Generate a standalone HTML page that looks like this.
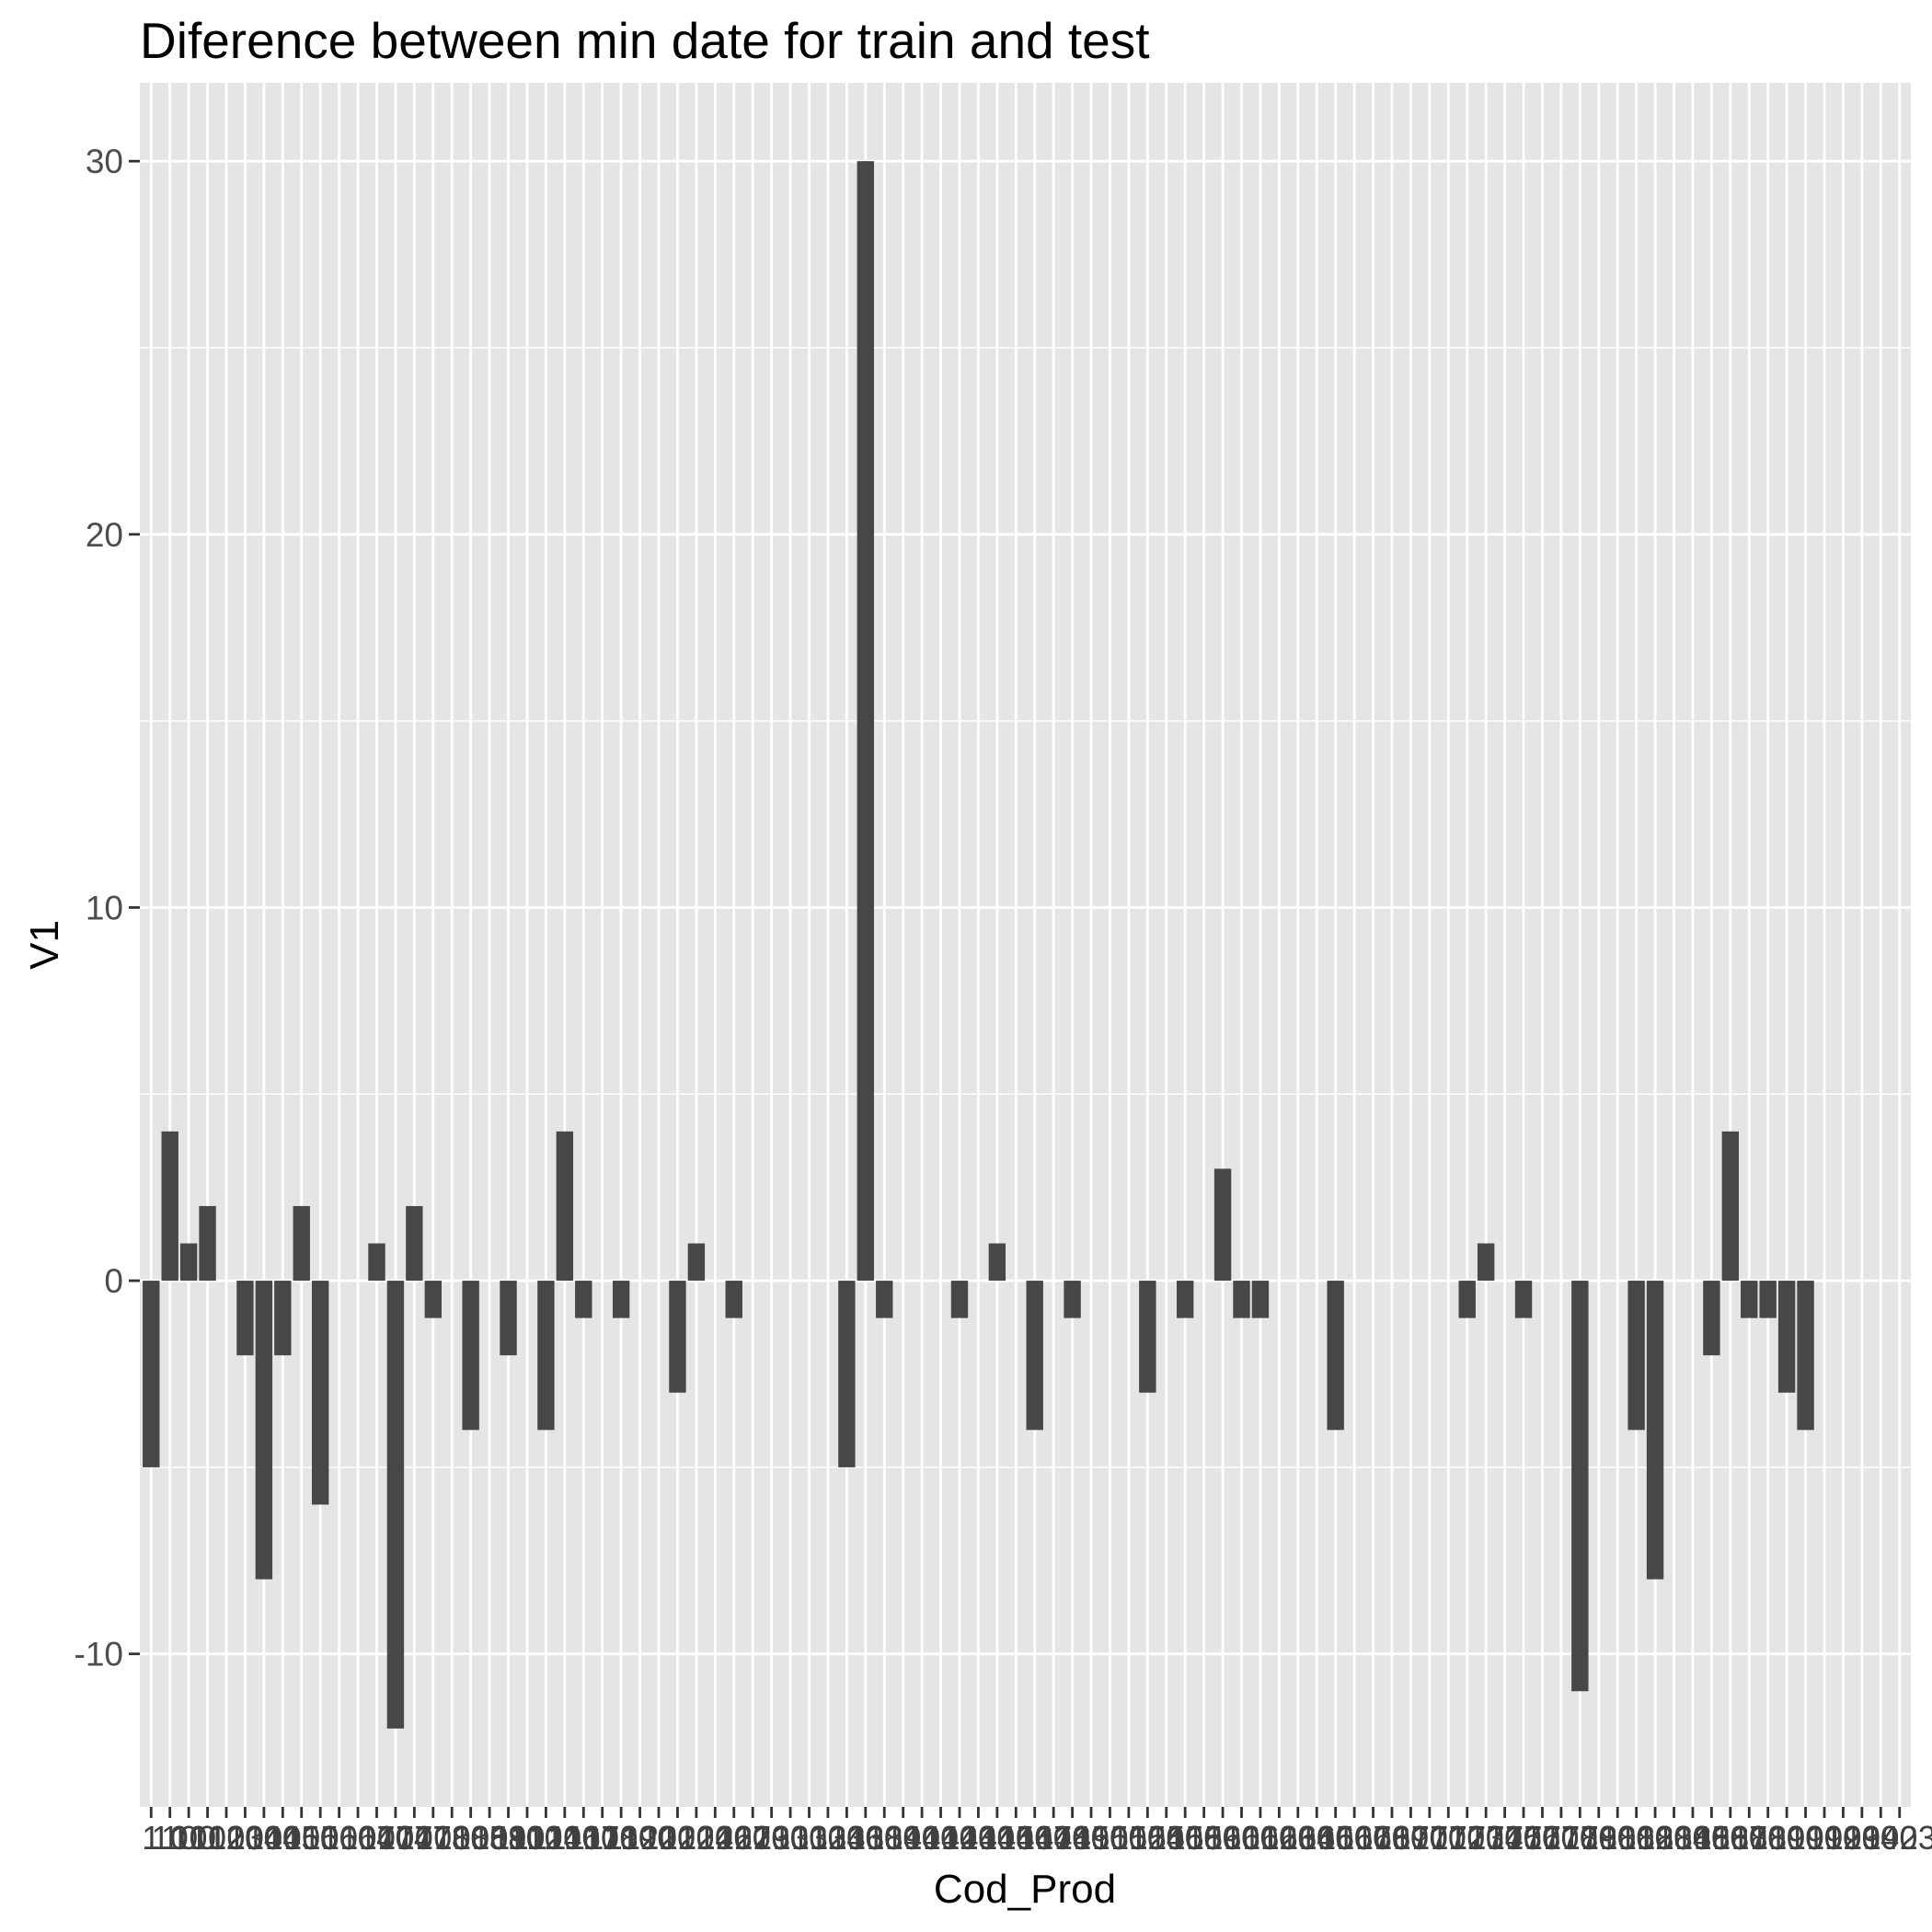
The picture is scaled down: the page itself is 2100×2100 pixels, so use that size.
<!DOCTYPE html>
<html><head><meta charset="utf-8"><style>
html,body{margin:0;padding:0;background:#fff;}
svg{display:block;font-family:"Liberation Sans",Arial,sans-serif;}
</style></head><body>
<svg id="chart" width="2100" height="2100" viewBox="0 0 2100 2100" xmlns="http://www.w3.org/2000/svg">
<text x="152" y="63" font-size="55" fill="#000">Diference between min date for train and test</text>
<rect x="152" y="90" width="1925" height="1874" fill="#e5e5e5"/>
<g id="grid"></g>
<g id="bars"></g>
<g id="yaxis"></g>
<g id="xaxis"></g>
<text x="1114" y="2068" font-size="44" text-anchor="middle" fill="#000">Cod_Prod</text>
<text transform="translate(63,1027) rotate(-90)" font-size="44" text-anchor="middle" fill="#000">V1</text>
</svg>
<script>
const barIndex = [0,1,2,3,5,6,7,8,9,12,13,14,15,17,19,21,22,23,25,28,29,31,37,38,39,43,45,47,49,53,55,57,58,59,63,70,71,73,76,79,80,83,84,85,86,87,88];
const barValues = [-5,4,1,2,-2,-8,-2,2,-6,1,-12,2,-1,-4,-2,-4,4,-1,-1,-3,1,-1,-5,30,-1,-1,1,-4,-1,-3,-1,3,-1,-1,-4,-1,1,-1,-11,-4,-8,-2,4,-1,-1,-3,-4];
const yTicks = [-10,0,10,20,30];
const yMinor = [-5,5,15,25];
const categoryLabels = ["1","10","100","1012","1020","1030","1040","1045","1050","1056","1060","1064","1070","1074","1077","1078","1080","1085","1088","1090","1100","1120","1140","1160","1170","1180","1190","1200","1210","1220","1240","1260","1270","1290","1300","1310","1320","1340","1360","1380","1390","1400","1410","1420","1430","1440","1450","1460","1470","1480","1490","1500","1510","1520","1540","1560","1580","1590","1600","1610","1620","1630","1640","1650","1660","1670","1680","1690","1700","1710","1720","1730","1740","1750","1760","1770","1780","1790","1800","1810","1820","1830","1840","1850","1860","1870","1880","1890","1900","1910","1920","1930","1940","1923"];
const NS = "http://www.w3.org/2000/svg";
const nCat = categoryLabels.length;
const px0 = 152, px1 = 2077, py0 = 90, py1 = 1964;
const step = (px1 - px0) / (nCat - 1 + 1.2);
function xScale(i){ return px0 + step * (0.6 + i); }
const yMin = -12 - 0.05*42, yMax = 30 + 0.05*42;
function yScale(v){ return py1 - (v - yMin) / (yMax - yMin) * (py1 - py0); }
function mk(tag, attrs, parent){ const e = document.createElementNS(NS, tag); for (const k in attrs) e.setAttribute(k, attrs[k]); parent.appendChild(e); return e; }
const grid = document.getElementById('grid');
for (const v of yMinor) {
  const l = mk('line', {x1:px0, x2:px1, y1:yScale(v), y2:yScale(v), stroke:'#fff', 'stroke-width':1.4}, grid);
  
  
}
for (const v of yTicks) {
  const l = mk('line', {x1:px0, x2:px1, y1:yScale(v), y2:yScale(v), stroke:'#fff', 'stroke-width':2.8}, grid);
  
  
}
for (let i = 0; i < nCat; i++) {
  const l = mk('line', {x1:xScale(i), x2:xScale(i), y1:py0, y2:py1, stroke:'#fff', 'stroke-width':2.8}, grid);
  
  
}
const bars = document.getElementById('bars');
const bw = step * 0.9;
for (let k = 0; k < barIndex.length; k++) {
  const v = barValues[k];
  const y0 = yScale(Math.max(0, v)), y1 = yScale(Math.min(0, v));
  const r = mk('rect', {x: xScale(barIndex[k]) - bw/2, y: y0, width: bw, height: y1 - y0, fill:'#474747'}, bars);
  
  
}
const yaxis = document.getElementById('yaxis');
for (const v of yTicks) {
  const t = mk('line', {x1:px0-12, x2:px0, y1:yScale(v), y2:yScale(v), stroke:'#333', 'stroke-width':2.8}, yaxis);
  
  
  const tx = mk('text', {x:px0-18, y:yScale(v)+13, 'font-size':37, fill:'#4d4d4d', 'text-anchor':'end'}, yaxis);
  tx.textContent = String(v);
  
  
}
const xaxis = document.getElementById('xaxis');
for (let i = 0; i < nCat; i++) {
  const t = mk('line', {x1:xScale(i), x2:xScale(i), y1:py1, y2:py1+12, stroke:'#333', 'stroke-width':2.8}, xaxis);
  
  
  const tx = mk('text', {x:xScale(i), y:2010, 'font-size':36, fill:'#404040', 'text-anchor':'middle'}, xaxis);
  tx.textContent = categoryLabels[i];
  
  
}
</script>
</body></html>
